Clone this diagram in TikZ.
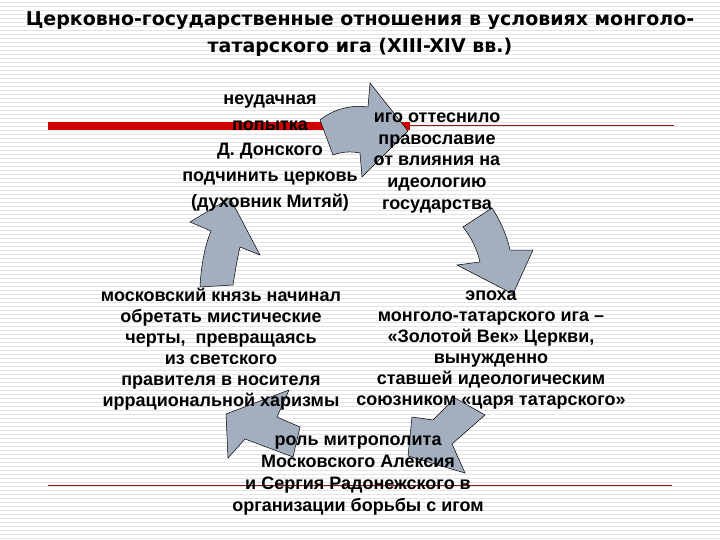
\documentclass[tikz,border=0pt]{standalone}
\usepackage{fontspec}
\setmainfont{Liberation Sans}
\newfontfamily\titlefont{DejaVu Sans}
\usepackage{tikz}
\definecolor{barred}{HTML}{D00000}
\definecolor{linered}{HTML}{8E1B1B}
\definecolor{arrowfill}{HTML}{A3AFBE}
\definecolor{stripegray}{HTML}{E4E4E4}

\begin{document}
\begin{tikzpicture}[x=1pt, y=-1pt,
    stripe/.style={stripegray, line width=0.9pt},
    blockarrow/.style={fill=arrowfill, draw=black, line width=0.5pt},
    stage/.style={font=\bfseries\fontsize{18}{#1}\selectfont, align=center, inner sep=0pt},
]
    \useasboundingbox[fill=white] (0,0) rectangle (720,540);

    % Background stripes
    \foreach \y in {2,6,...,538}
        \draw[stripe] (0,\y) -- (720,\y);

    % Red rules
    \fill[barred] (48,122) rectangle (410,130);
    \draw[linered, line width=1pt] (410,126) -- (674,126);
    \draw[linered, line width=1pt] (48,485) -- (672,485);

    % Curved arrows
    \draw[blockarrow] (320,120) .. controls (335,108) and (352,105) .. (368,107)
        -- (370,83) -- (408,131) -- (362,177) -- (360,153)
        .. controls (350,151) and (341,152) .. (333,155) -- cycle;
    \draw[blockarrow] (463,227) -- (492,208) .. controls (501,222) and (507,236) .. (510,250)
        -- (533,250) -- (513,294) -- (457,265) -- (480,262)
        .. controls (477,249) and (471,237) .. cycle;
    \draw[blockarrow] (412,417) -- (433,420) -- (455,398) -- (485,415)
        -- (452,444) -- (465,473) -- (408,456) -- cycle;
    \draw[blockarrow] (226,414) -- (289,390) -- (277,417) -- (300,427)
        -- (293,457) -- (245,439) -- (228,458) -- cycle;
    \draw[blockarrow] (230,198) -- (260,255) -- (240,247)
        .. controls (237,260) and (235,272) .. (233,285) -- (200,287)
        .. controls (201,268) and (204,248) .. (211,231) -- (190,222) -- cycle;

    % Title
    \node[font=\titlefont\bfseries\fontsize{19}{27}\selectfont, align=center] (title) at (360,34)
        {Церковно-государственные отношения в условиях монголо-\\татарского ига (XIII-XIV вв.)};

    % Stages
    \node[stage=25.7] (donskoy) at (270,153)
        {неудачная\\попытка\\Д. Донского\\подчинить церковь\\(духовник Митяй)};
    \node[stage=21.7] (igo) at (437,163)
        {иго оттеснило\\православие\\от влияния на\\идеологию\\государства};
    \node[stage=21] (knyaz) at (221,349)
        {московский князь начинал\\обретать мистические\\черты,~ превращаясь\\из светского\\правителя в носителя\\иррациональной харизмы};
    \node[stage=21] (epoha) at (491,350)
        {эпоха\\монголо-татарского ига –\\«Золотой Век» Церкви,\\вынужденно\\ставшей идеологическим\\союзником «царя татарского»};
    \node[stage=22] (alexy) at (358,476)
        {роль митрополита\\Московского Алексия\\и Сергия Радонежского в\\организации борьбы с игом};
\end{tikzpicture}
\end{document}
